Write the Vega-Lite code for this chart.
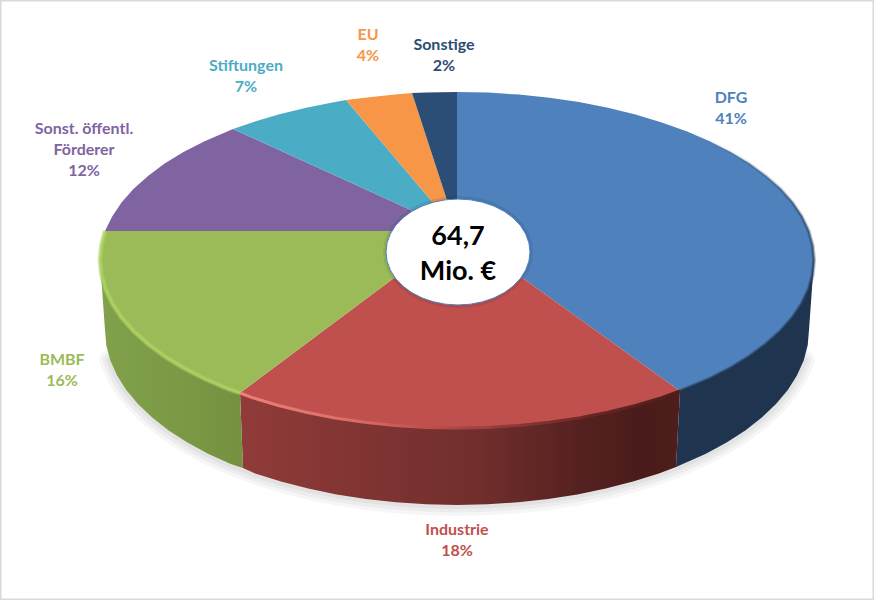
{"$schema":"https://vega.github.io/schema/vega-lite/v6.json","width":874,"height":600,"autosize":{"type":"fit","contains":"padding"},"padding":0,"background":"#ffffff","view":{"stroke":"#d9d9d9","strokeWidth":3,"fill":"#ffffff"},
"projection":{"type":"identity","scale":1,"translate":[0,0]},
"datasets":{
"shadow":[{"type":"Feature","properties":{"name":"Schatten"},"geometry":{"type":"LineString","coordinates":[[803.7,360.4],[797,375.3],[787.8,389.9],[776,404],[761.8,417.5],[745.3,430.4],[726.6,442.5],[705.9,453.7],[683.3,464.1],[658.9,473.4],[633,481.6],[605.8,488.6],[577.4,494.4],[548.1,499],[518.1,502.3],[487.7,504.3],[457,505],[426.3,504.3],[395.9,502.3],[365.9,499],[336.6,494.4],[308.2,488.6],[281,481.6],[255.1,473.4],[230.7,464.1],[208.1,453.7],[187.4,442.5],[168.7,430.4],[152.2,417.5],[138,404],[126.2,389.9],[117,375.3],[110.3,360.4]]}}],
"sides":[
{"type":"Feature","properties":{"name":"DFG"},"geometry":{"type":"Polygon","coordinates":[[[814,260],[809,330],[807.7,345.3],[803.7,360.4],[797,375.3],[787.8,389.9],[776,404],[761.8,417.5],[745.3,430.4],[726.6,442.5],[705.9,453.7],[676,467],[680,391],[814,260]]]}},
{"type":"Feature","properties":{"name":"Industrie"},"geometry":{"type":"Polygon","coordinates":[[[680,391],[676,467],[658.9,473.4],[633,481.6],[605.8,488.6],[577.4,494.4],[548.1,499],[518.1,502.3],[487.7,504.3],[457,505],[426.3,504.3],[395.9,502.3],[365.9,499],[336.6,494.4],[308.2,488.6],[281,481.6],[255.1,473.4],[243,468],[240,393],[680,391]]]}},
{"type":"Feature","properties":{"name":"BMBF"},"geometry":{"type":"Polygon","coordinates":[[[240,393],[243,468],[230.7,464.1],[208.1,453.7],[187.4,442.5],[168.7,430.4],[152.2,417.5],[138,404],[126.2,389.9],[117,375.3],[110.3,360.4],[106.3,345.3],[105,330],[100,260],[240,393]]]}}],
"wedges":[
{"type":"Feature","properties":{"name":"DFG","share":41},"geometry":{"type":"Polygon","coordinates":[[[457,231],[457,92],[488.1,92.6],[519,94.6],[549.4,97.7],[579,102.1],[607.9,107.7],[635.5,114.5],[661.8,122.4],[686.5,131.3],[709.4,141.2],[730.5,152],[749.4,163.6],[766,176],[780.6,189],[792.5,202.5],[801.8,216.5],[808.6,230.8],[812.6,245.4],[814,260],[812.6,274.6],[808.6,289.2],[801.8,303.5],[792.5,317.5],[780.6,331],[766,344],[749.4,356.4],[730.5,368],[709.4,378.8],[680,391],[457,231]]]}},
{"type":"Feature","properties":{"name":"Industrie","share":18},"geometry":{"type":"Polygon","coordinates":[[[457,231],[680,391],[661.8,397.6],[635.5,405.5],[607.9,412.3],[579,417.9],[549.4,422.3],[519,425.4],[488.1,427.4],[457,428],[425.9,427.4],[395,425.4],[364.6,422.3],[335,417.9],[306.1,412.3],[278.5,405.5],[252.2,397.6],[240,393],[457,231]]]}},
{"type":"Feature","properties":{"name":"BMBF","share":16},"geometry":{"type":"Polygon","coordinates":[[[457,231],[240,393],[227.5,388.7],[204.6,378.8],[183.5,368],[164.6,356.4],[148,344],[133.4,331],[121.5,317.5],[112.2,303.5],[105.4,289.2],[101.4,274.6],[100,260],[101.4,245.4],[105,231],[457,231]]]}},
{"type":"Feature","properties":{"name":"Sonst. öffentl. Förderer","share":12},"geometry":{"type":"Polygon","coordinates":[[[457,231],[105,231],[112.2,216.5],[121.5,202.5],[133.4,189],[148,176],[164.6,163.6],[183.5,152],[204.6,141.2],[233,129],[457,231]]]}},
{"type":"Feature","properties":{"name":"Stiftungen","share":7},"geometry":{"type":"Polygon","coordinates":[[[457,231],[233,129],[252.2,122.4],[278.5,114.5],[306.1,107.7],[335,102.1],[346,100],[457,231]]]}},
{"type":"Feature","properties":{"name":"EU","share":4},"geometry":{"type":"Polygon","coordinates":[[[457,231],[346,100],[364.6,97.7],[395,94.6],[412,93],[457,231]]]}},
{"type":"Feature","properties":{"name":"Sonstige","share":2},"geometry":{"type":"Polygon","coordinates":[[[457,231],[412,93],[425.9,92.6],[457,92],[457,231]]]}}],
"rims":[
{"type":"Feature","properties":{"name":"DFG"},"geometry":{"type":"LineString","coordinates":[[686.5,131.3],[709.4,141.2],[730.5,152],[749.4,163.6],[766,176],[780.6,189],[792.5,202.5],[801.8,216.5],[808.6,230.8],[812.6,245.4],[814,260],[812.6,274.6],[808.6,289.2],[801.8,303.5],[792.5,317.5],[780.6,331],[766,344],[749.4,356.4],[730.5,368],[709.4,378.8],[680,391]]}},
{"type":"Feature","properties":{"name":"Industrie"},"geometry":{"type":"LineString","coordinates":[[680,391],[661.8,397.6],[635.5,405.5],[607.9,412.3],[579,417.9],[549.4,422.3],[519,425.4],[488.1,427.4],[457,428],[425.9,427.4],[395,425.4],[364.6,422.3],[335,417.9],[306.1,412.3],[278.5,405.5],[252.2,397.6],[240,393]]}},
{"type":"Feature","properties":{"name":"BMBF"},"geometry":{"type":"LineString","coordinates":[[240,393],[227.5,388.7],[204.6,378.8],[183.5,368],[164.6,356.4],[148,344],[133.4,331],[121.5,317.5],[112.2,303.5],[105.4,289.2],[101.4,274.6],[100,260],[101.4,245.4],[105,231]]}}],
"hole":[{"type":"Feature","properties":{"name":"Gesamt"},"geometry":{"type":"Polygon","coordinates":[[[458,199],[470.5,199.8],[482.6,202.2],[494,206.1],[504.3,211.4],[513.2,217.9],[520.4,225.5],[525.7,233.9],[528.9,242.8],[530,252],[528.9,261.2],[525.7,270.1],[520.4,278.5],[513.2,286.1],[504.3,292.6],[494,297.9],[482.6,301.8],[470.5,304.2],[458,305],[445.5,304.2],[433.4,301.8],[422,297.9],[411.7,292.6],[402.8,286.1],[395.6,278.5],[390.3,270.1],[387.1,261.2],[386,252],[387.1,242.8],[390.3,233.9],[395.6,225.5],[402.8,217.9],[411.7,211.4],[422,206.1],[433.4,202.2],[445.5,199.8],[458,199]]]}}],
"labels":[
{"name":"DFG","label":"DFG\n41%","px":731,"py":98},
{"name":"Industrie","label":"Industrie\n18%","px":457,"py":530},
{"name":"BMBF","label":"BMBF\n16%","px":62,"py":359.5},
{"name":"Sonst. öffentl. Förderer","label":"Sonst. öffentl.\nFörderer\n12%","px":84,"py":129},
{"name":"Stiftungen","label":"Stiftungen\n7%","px":246,"py":66},
{"name":"EU","label":"EU\n4%","px":368,"py":35},
{"name":"Sonstige","label":"Sonstige\n2%","px":444,"py":45}],
"total":[{"label":"64,7\nMio. €","px":458,"py":237}]},
"layer":[
{"data":{"name":"shadow"},"mark":{"type":"geoshape","filled":false,"stroke":"#000000","strokeWidth":22,"strokeOpacity":0.035,"strokeCap":"round"}},
{"data":{"name":"shadow"},"mark":{"type":"geoshape","filled":false,"stroke":"#000000","strokeWidth":15,"strokeOpacity":0.04,"strokeCap":"round"}},
{"data":{"name":"shadow"},"mark":{"type":"geoshape","filled":false,"stroke":"#000000","strokeWidth":8,"strokeOpacity":0.04,"strokeCap":"round"}},
{"data":{"name":"sides"},"transform":[{"filter":"datum.properties.name==='DFG'"}],"mark":{"type":"geoshape","fill":"#1f344f"}},
{"data":{"name":"sides"},"transform":[{"filter":"datum.properties.name==='Industrie'"}],"mark":{"type":"geoshape","fill":{"gradient":"linear","x1":0,"y1":0,"x2":1,"y2":0,"stops":[{"offset":0,"color":"#903b39"},{"offset":0.3,"color":"#7f3432"},{"offset":0.55,"color":"#702e2c"},{"offset":0.8,"color":"#52201f"},{"offset":0.92,"color":"#4a1b1a"},{"offset":1,"color":"#4e1e1c"}]}}},
{"data":{"name":"sides"},"transform":[{"filter":"datum.properties.name==='BMBF'"}],"mark":{"type":"geoshape","fill":{"gradient":"linear","x1":0,"y1":0,"x2":1,"y2":0,"stops":[{"offset":0,"color":"#81a14b"},{"offset":0.5,"color":"#7c9a46"},{"offset":1,"color":"#759140"}]}}},
{"data":{"name":"wedges"},"mark":{"type":"geoshape","strokeWidth":0},"encoding":{"fill":{"field":"properties.name","type":"nominal","legend":null,"scale":{"domain":["DFG","Industrie","BMBF","Sonst. öffentl. Förderer","Stiftungen","EU","Sonstige"],"range":["#4f81bd","#c0504d","#9bbb59","#8064a2","#4bacc6","#f79646","#2c4d75"]}}}},
{"data":{"name":"rims"},"transform":[{"filter":"datum.properties.name==='DFG'"}],"mark":{"type":"geoshape","filled":false,"strokeWidth":4,"stroke":{"gradient":"linear","x1":0,"y1":0,"x2":0,"y2":1,"stops":[{"offset":0,"color":"rgba(31,52,79,0)"},{"offset":0.35,"color":"rgba(31,52,79,0.2)"},{"offset":0.6,"color":"rgba(31,52,79,0.35)"},{"offset":1,"color":"rgba(31,52,79,0.35)"}]}}},
{"data":{"name":"rims"},"transform":[{"filter":"datum.properties.name==='DFG'"}],"mark":{"type":"geoshape","filled":false,"strokeWidth":2,"stroke":{"gradient":"linear","x1":0,"y1":0,"x2":0,"y2":1,"stops":[{"offset":0,"color":"rgba(31,52,79,0)"},{"offset":0.3,"color":"rgba(31,52,79,0.5)"},{"offset":1,"color":"rgba(31,52,79,0.55)"}]}}},
{"data":{"name":"rims"},"transform":[{"filter":"datum.properties.name==='Industrie'"}],"mark":{"type":"geoshape","filled":false,"strokeWidth":3,"stroke":{"gradient":"linear","x1":0,"y1":0,"x2":1,"y2":0,"stops":[{"offset":0,"color":"#ee7f7a"},{"offset":0.25,"color":"#dc6d69"},{"offset":0.42,"color":"#c0504d"},{"offset":0.6,"color":"#8f3a38"},{"offset":0.8,"color":"#6a2624"},{"offset":1,"color":"#4f1d1b"}]}}},
{"data":{"name":"rims"},"transform":[{"filter":"datum.properties.name==='BMBF'"}],"mark":{"type":"geoshape","filled":false,"stroke":"#acd463","strokeWidth":5,"strokeOpacity":0.45}},
{"data":{"name":"rims"},"transform":[{"filter":"datum.properties.name==='BMBF'"}],"mark":{"type":"geoshape","filled":false,"stroke":"#acd463","strokeWidth":2.5,"strokeOpacity":0.8}},
{"data":{"name":"hole"},"mark":{"type":"geoshape","filled":false,"stroke":"#000000","strokeWidth":6,"strokeOpacity":0.08}},
{"data":{"name":"hole"},"mark":{"type":"geoshape","fill":"#ffffff","stroke":"#4f81bd","strokeWidth":1}},
{"data":{"name":"labels"},"mark":{"type":"text","font":"Lato","fontWeight":"bold","fontSize":16,"lineHeight":21,"lineBreak":"\n","align":"center","baseline":"middle"},"encoding":{"longitude":{"field":"px","type":"quantitative"},"latitude":{"field":"py","type":"quantitative"},"text":{"field":"label","type":"nominal"},"color":{"field":"name","type":"nominal","legend":null,"scale":{"domain":["DFG","Industrie","BMBF","Sonst. öffentl. Förderer","Stiftungen","EU","Sonstige"],"range":["#4f81bd","#c0504d","#9bbb59","#8064a2","#4bacc6","#f79646","#2c4d75"]}}}},
{"data":{"name":"total"},"mark":{"type":"text","font":"Lato","fontWeight":"bold","fontSize":27,"lineHeight":35,"lineBreak":"\n","align":"center","baseline":"middle","color":"#000000"},"encoding":{"longitude":{"field":"px","type":"quantitative"},"latitude":{"field":"py","type":"quantitative"},"text":{"field":"label","type":"nominal"}}}
]}
